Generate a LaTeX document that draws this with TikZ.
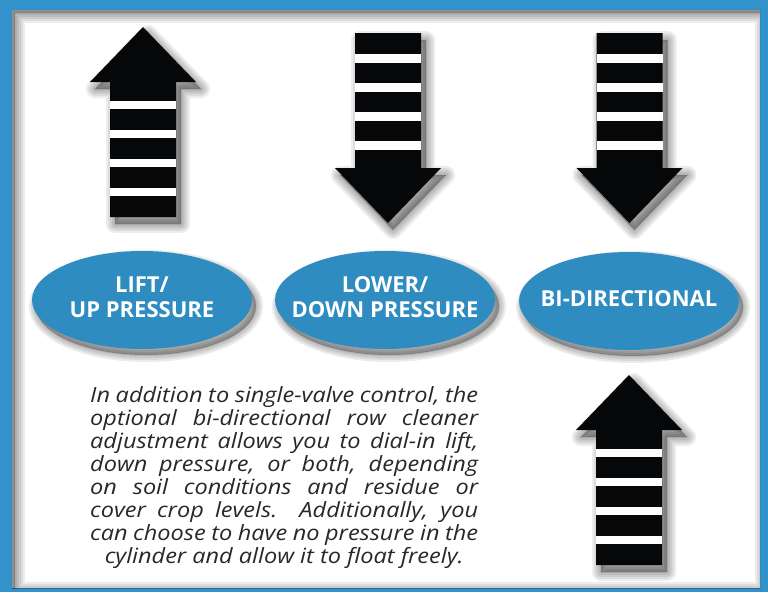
\documentclass[tikz,border=0pt]{standalone}
\usepackage{fontspec}
\usetikzlibrary{shapes.geometric}
\newfontfamily\parafont{Open Sans}[FakeStretch=1.12]
\newfontfamily\lblfont{Open Sans}
\definecolor{frameblue}{RGB}{50,146,201}
\definecolor{ellblue}{RGB}{47,140,193}
\definecolor{txtgray}{RGB}{40,40,40}
\definecolor{arrowblack}{RGB}{5,7,8}
\newcommand\arrowpath[3]{({#1-33},{#2}) -- ({#1+33},{#2}) -- ({#1+33},{#2+#3*135}) -- ({#1+53},{#2+#3*135}) -- ({#1},{#2+#3*190}) -- ({#1-53},{#2+#3*135}) -- ({#1-33},{#2+#3*135}) -- cycle}
\newcommand\stripedarrow[3]{%
  \foreach \w in {2,6,10,14,18}
    \filldraw[black,opacity=0.07,line width=\w pt,line join=round,shift={(5,7)}] \arrowpath{#1}{#2}{#3};
  \fill[arrowblack] \arrowpath{#1}{#2}{#3};
  \foreach \o in {21,50,79,108}
    \fill[white] ({#1-33},{#2+#3*\o}) rectangle ({#1+33},{#2+#3*(\o+8.5)});
}
\newcommand\ellshadow[2]{%
  \foreach \w in {2,6,10,14}
    \filldraw[black,opacity=0.08,line width=\w pt] ({#1+4},{#2+6}) ellipse[x radius=110pt,y radius=49pt];
}
\begin{document}
\begin{tikzpicture}[x=1pt,y=-1pt,
  bubble/.style={shape=ellipse,fill=ellblue,minimum width=220pt,minimum height=98pt,inner sep=0pt},
  lbl/.style={text=white,align=center,inner sep=0pt,yshift=2.5pt,font=\lblfont\bfseries\fontsize{22}{25}\selectfont},
  para/.style={anchor=base west,inner sep=0pt,text=txtgray,font=\parafont\itshape\fontsize{21}{23}\selectfont}]
\useasboundingbox (0,0) rectangle (768,592);
% frame
\fill[frameblue] (0,0) rectangle (768,592);
\fill[white] (12,10) rectangle (760,588);
\begin{scope}
  \clip (12,10) rectangle (760,588);
  \fill[black,opacity=0.25,even odd rule] (0,0) rectangle (768,592) (15,13) rectangle (764,591);
  \foreach \w in {3,7,11,15,19}
    \draw[black,opacity=0.07,line width=\w pt] (15,13) rectangle (764,591);
\end{scope}
% arrows
\stripedarrow{143}{217}{-1}
\stripedarrow{388}{33}{1}
\stripedarrow{629.5}{33}{1}
\stripedarrow{629}{565}{-1}
% ellipses
\ellshadow{142}{300}
\ellshadow{385}{300}
\ellshadow{629}{301}
\node[bubble] (lift) at (142,300) {};
\node[bubble] (lower) at (385,300) {};
\node[bubble] (bidir) at (629,301) {};
\node[lbl] (lifttxt) at (lift) {LIFT/\\UP PRESSURE};
\node[lbl] (lowertxt) at (lower) {LOWER/\\DOWN PRESSURE};
\node[lbl] (bidirtxt) at (bidir) {BI-DIRECTIONAL};
% paragraph
\node[para] (p1) at (90,402) {\makebox[388pt][s]{In addition to single-valve control, the}};
\node[para] (p2) at (90,425) {\makebox[388pt][s]{optional bi-directional row cleaner}};
\node[para] (p3) at (90,448) {\makebox[388pt][s]{adjustment allows you to dial-in lift,}};
\node[para] (p4) at (90,471) {\makebox[388pt][s]{down pressure, or both, depending}};
\node[para] (p5) at (90,494) {\makebox[388pt][s]{on soil conditions and residue or}};
\node[para] (p6) at (90,517) {\makebox[388pt][s]{cover crop levels.\ \ Additionally, you}};
\node[para] (p7) at (90,540) {\makebox[388pt][s]{can choose to have no pressure in the}};
\node[para] (p8) at (90,563) {\makebox[388pt][c]{cylinder and allow it to float freely.}};
\end{tikzpicture}
\end{document}
